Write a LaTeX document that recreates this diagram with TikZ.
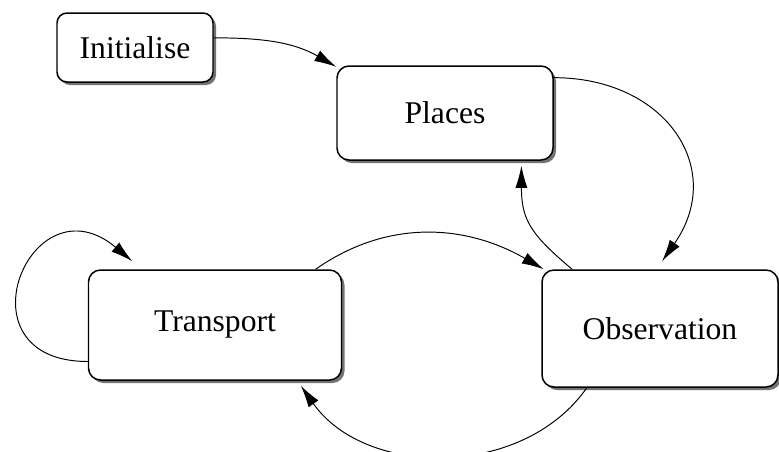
\documentclass[tikz,border=0pt]{standalone}
\usepackage{fontspec}
\setmainfont{Liberation Serif}
\usetikzlibrary{arrows.meta,shadows}

\begin{document}
\begin{tikzpicture}[>={Latex[length=0.44cm,width=0.24cm]},
    state/.style={draw, line width=0.85pt, rounded corners=0.24cm, fill=white,
        font=\fontsize{18}{22}\selectfont,
        drop shadow={shadow xshift=0.06cm, shadow yshift=-0.06cm, fill=black!55, opacity=1}},
    link/.style={->, line width=0.55pt}]
\useasboundingbox (0,0) rectangle (15.58,-9.02);

\node[state, minimum width=3.12cm, minimum height=1.38cm, rounded corners=0.2cm] (init) at (2.70,-0.95) {Initialise};
\node[state, minimum width=4.32cm, minimum height=1.88cm] (places) at (8.90,-2.26) {Places};
\node[state, minimum width=5.06cm, minimum height=2.20cm] (transport) at (4.30,-6.50) {Transport};
\node[state, minimum width=4.72cm, minimum height=2.34cm] (obs) at (13.20,-6.57) {Observation};

\draw[link](init.7) to[out=0, in=150] (places.157);
\draw[link](places.18) to[out=0, in=55, looseness=1.35] ([yshift=0.16cm]obs.88);
\draw[link](obs.146) to[out=140, in=-90, looseness=1.2] ([yshift=-0.1cm]places.-32);
\draw[link](transport.29) to[out=35, in=150] (obs.153);
\draw[link](obs.-141) to[out=-125, in=-55] ([yshift=-0.1cm]transport.-33);
\draw[link](transport.196) to[out=180, in=140, looseness=3.1] ([yshift=0.16cm]transport.146);

\end{tikzpicture}
\end{document}
